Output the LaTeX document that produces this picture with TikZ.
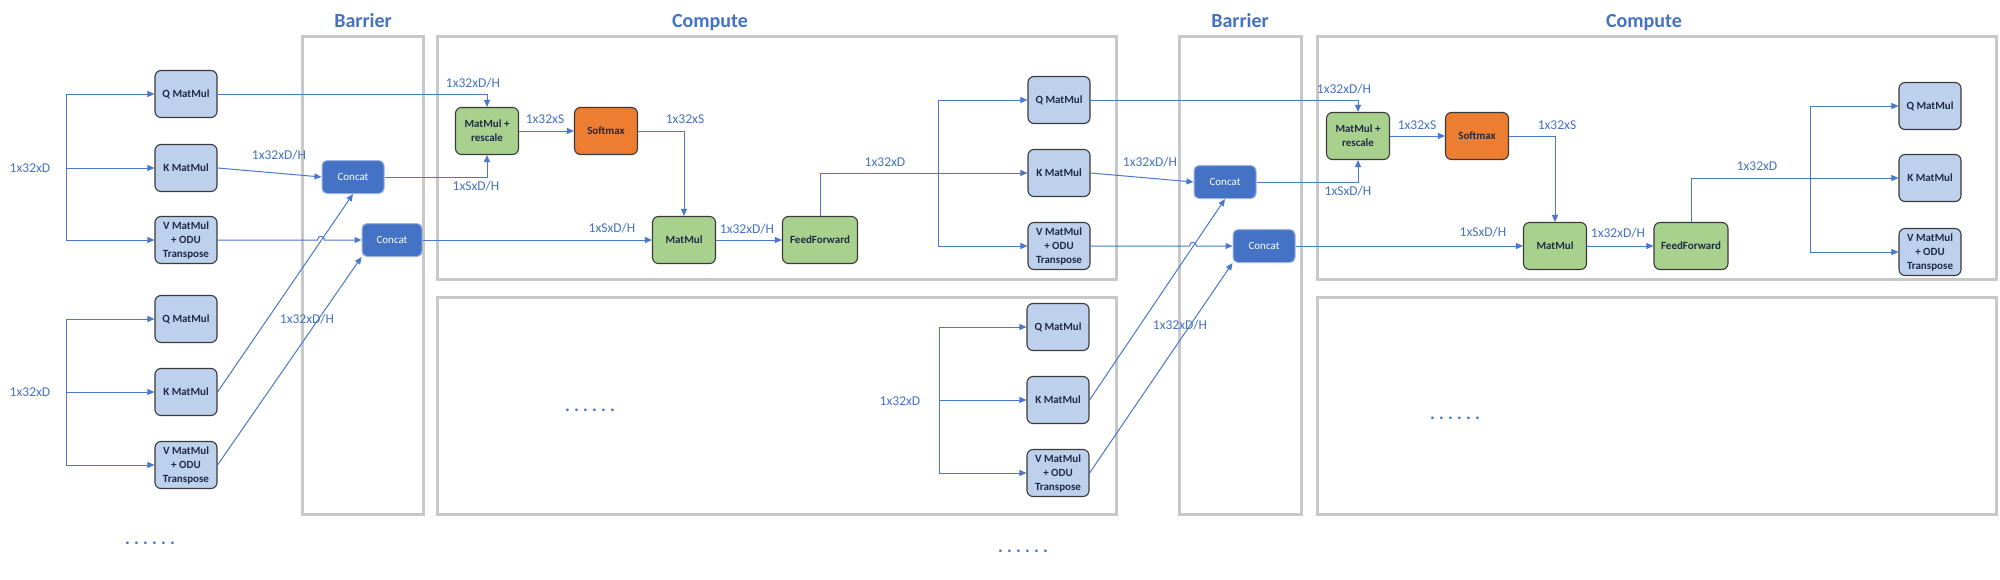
\documentclass[tikz,border=0pt]{standalone}
\usepackage{fontspec}
\setmainfont{Carlito}
\usetikzlibrary{arrows.meta,calc}
\definecolor{cblue}{HTML}{4472C4}
\definecolor{lblue}{HTML}{BDD0EC}
\definecolor{cgreen}{HTML}{A9D18E}
\definecolor{corange}{HTML}{ED7D31}
\definecolor{cgray}{HTML}{C8C8C8}
\definecolor{cline}{HTML}{4A78CB}
\definecolor{cborder}{HTML}{3A3A3A}
\definecolor{ctext}{HTML}{1F2A44}
\definecolor{catborder}{HTML}{9DB5E0}
\newcommand{\mydots}{.\hspace{4.2pt}.\hspace{4.2pt}.\hspace{4.2pt}.\hspace{4.2pt}.\hspace{4.2pt}.}
\begin{document}
\begin{tikzpicture}[x=1pt,y=-1pt,
  box/.style={draw=cborder,line width=1.1pt,rounded corners=6pt,minimum width=62pt,minimum height=47pt,inner sep=1pt,align=center,font=\fontsize{11}{14}\selectfont\bfseries,text=ctext},
  blk/.style={box,fill=lblue},
  grn/.style={box,fill=cgreen},
  org/.style={box,fill=corange},
  cat/.style={draw=catborder,line width=1pt,fill=cblue,rounded corners=5pt,minimum width=62pt,minimum height=33pt,inner sep=1pt,text=white,font=\fontsize{11}{13}\selectfont},
  lbl/.style={text=cblue,font=\fontsize{13.5}{14}\selectfont,inner sep=0pt,text height=8.7pt,text depth=0pt},
  ttl/.style={text=cblue,font=\fontsize{20}{22}\selectfont\bfseries,inner sep=0pt,anchor=base},
  dts/.style={text=cblue,font=\fontsize{18}{18}\selectfont\bfseries,inner sep=0pt,anchor=base},
  frame/.style={draw=cgray,line width=3pt},
  ln/.style={draw=cline,line width=1pt},
  conn/.style={ln,-{Triangle[length=7pt,width=6pt]}},
]
\useasboundingbox[fill=white] (0,0) rectangle (2000,579);

% frames
\draw[frame] (302,36) rectangle (423,514);
\draw[frame] (437,36) rectangle (1116,279);
\draw[frame] (437,297) rectangle (1116,514);
\draw[frame] (1179,36) rectangle (1301,514);
\draw[frame] (1317,36) rectangle (1996,279);
\draw[frame] (1317,297) rectangle (1996,514);

% titles
\node[ttl] (t1) at (363,27.5) {Barrier};
\node[ttl] (t2) at (710,27.5) {Compute};
\node[ttl] (t3) at (1240,27.5) {Barrier};
\node[ttl] (t4) at (1644,27.5) {Compute};

% left groups
\node[blk] (q1) at (186,94) {Q MatMul};
\node[blk] (k1) at (186,168) {K MatMul};
\node[blk] (v1) at (186,240) {V MatMul\\+ ODU\\Transpose};
\node[blk] (q2) at (186,319) {Q MatMul};
\node[blk] (k2) at (186,392) {K MatMul};
\node[blk] (v2) at (186,465) {V MatMul\\+ ODU\\Transpose};

% barrier 1
\node[cat] (c1) at (353,177) {Concat};
\node[cat,minimum width=60pt] (c2) at (392,240) {Concat};

% compute 1 upper
\node[grn,minimum width=63pt] (mr1) at (487,131) {MatMul +\\rescale};
\node[org,minimum width=63pt] (sm1) at (606,131) {Softmax};
\node[grn,minimum width=63pt] (mm1) at (684,240) {MatMul};
\node[grn,minimum width=75pt] (ff1) at (820,240) {FeedForward};
\node[blk] (q3) at (1059,100) {Q MatMul};
\node[blk] (k3) at (1059,173) {K MatMul};
\node[blk] (v3) at (1059,246) {V MatMul\\+ ODU\\Transpose};

% compute 1 lower
\node[blk] (q4) at (1058,327) {Q MatMul};
\node[blk] (k4) at (1058,400) {K MatMul};
\node[blk] (v4) at (1058,473) {V MatMul\\+ ODU\\Transpose};

% barrier 2
\node[cat] (c3) at (1225,182) {Concat};
\node[cat] (c4) at (1264,246) {Concat};

% compute 2 upper
\node[grn,minimum width=63pt] (mr2) at (1358,136) {MatMul +\\rescale};
\node[org,minimum width=63pt] (sm2) at (1477,136) {Softmax};
\node[grn,minimum width=63pt] (mm2) at (1555,246) {MatMul};
\node[grn,minimum width=74pt] (ff2) at (1691,246) {FeedForward};
\node[blk] (q5) at (1930,106) {Q MatMul};
\node[blk] (k5) at (1930,178) {K MatMul};
\node[blk] (v5) at (1930,252) {V MatMul\\+ ODU\\Transpose};

% split coordinates
\coordinate (sp1) at (66,168);
\coordinate (sp2) at (66,392);
\coordinate (sp3) at (938,173);
\coordinate (sp4) at (939,400);
\coordinate (sp5) at (1810,178);
\coordinate (h1) at (321,240);
\coordinate (h2) at (1193,246);

% left split 1
\draw[ln] (sp1 |- q1.west) -- (sp1 |- v1.west);
\draw[conn] (sp1 |- q1.west) -- (q1.west);
\draw[conn] (sp1) -- (k1.west);
\draw[conn] (sp1 |- v1.west) -- (v1.west);
% left split 2
\draw[ln] (sp2 |- q2.west) -- (sp2 |- v2.west);
\draw[conn] (sp2 |- q2.west) -- (q2.west);
\draw[conn] (sp2) -- (k2.west);
\draw[conn] (sp2 |- v2.west) -- (v2.west);

% into barrier 1
\draw[conn] (k1.east) -- (c1.west);
\draw[conn] (k2.east) -- (c1.south);
\draw[conn] (v2.east) -- (c2.south west);
\draw[conn] (v1.east) -- ([xshift=-3.5pt]h1) .. controls +(0,-5) and +(0,-5) .. ([xshift=3.5pt]h1) -- (c2.west);

% compute 1
\draw[conn] (q1.east) -| (mr1.north);
\draw[conn] (c1.east) -| (mr1.south);
\draw[conn] (mr1.east) -- (sm1.west);
\draw[conn] (sm1.east) -| (mm1.north);
\draw[conn] (c2.east) -- (mm1.west);
\draw[conn] (mm1.east) -- (ff1.west);
\draw[conn] (ff1.north) |- (k3.west);
\draw[ln] (sp3 |- q3.west) -- (sp3 |- v3.west);
\draw[conn] (sp3 |- q3.west) -- (q3.west);
\draw[conn] (sp3 |- v3.west) -- (v3.west);

% compute 1 lower split
\draw[ln] (sp4 |- q4.west) -- (sp4 |- v4.west);
\draw[conn] (sp4 |- q4.west) -- (q4.west);
\draw[conn] (sp4) -- (k4.west);
\draw[conn] (sp4 |- v4.west) -- (v4.west);

% into barrier 2
\draw[conn] (k3.east) -- (c3.west);
\draw[conn] (k4.east) -- (c3.south);
\draw[conn] (v4.east) -- (c4.south west);
\draw[conn] (v3.east) -- ([xshift=-3.5pt]h2) .. controls +(0,-5) and +(0,-5) .. ([xshift=3.5pt]h2) -- (c4.west);

% compute 2
\draw[conn] (q3.east) -| (mr2.north);
\draw[conn] (c3.east) -| (mr2.south);
\draw[conn] (mr2.east) -- (sm2.west);
\draw[conn] (sm2.east) -| (mm2.north);
\draw[conn] (c4.east) -- (mm2.west);
\draw[conn] (mm2.east) -- (ff2.west);
\draw[conn] (ff2.north) |- (k5.west);
\draw[ln] (sp5 |- q5.west) -- (sp5 |- v5.west);
\draw[conn] (sp5 |- q5.west) -- (q5.west);
\draw[conn] (sp5 |- v5.west) -- (v5.west);

% labels
\node[lbl] (l1) at (30,168) {1x32xD};
\node[lbl] (l2) at (30,392) {1x32xD};
\node[lbl] (l3) at (279,155) {1x32xD/H};
\node[lbl] (l4) at (307,319) {1x32xD/H};
\node[lbl] (l5) at (473,83) {1x32xD/H};
\node[lbl] (l6) at (476,186) {1xSxD/H};
\node[lbl] (l7) at (545,119) {1x32xS};
\node[lbl] (l8) at (685,119) {1x32xS};
\node[lbl] (l9) at (612,228) {1xSxD/H};
\node[lbl] (l10) at (747,229) {1x32xD/H};
\node[lbl] (l11) at (885,162) {1x32xD};
\node[lbl] (l12) at (900,401) {1x32xD};
\node[lbl] (l13) at (1150,162) {1x32xD/H};
\node[lbl] (l14) at (1180,325) {1x32xD/H};
\node[lbl] (l15) at (1344,89) {1x32xD/H};
\node[lbl] (l16) at (1348,191) {1xSxD/H};
\node[lbl] (l17) at (1417,125) {1x32xS};
\node[lbl] (l18) at (1557,125) {1x32xS};
\node[lbl] (l19) at (1483,232) {1xSxD/H};
\node[lbl] (l20) at (1618,233) {1x32xD/H};
\node[lbl] (l21) at (1757,166) {1x32xD};

% dots
\node[dts] (d1) at (150,544) {\mydots};
\node[dts] (d2) at (590,411) {\mydots};
\node[dts] (d3) at (1023,552) {\mydots};
\node[dts] (d4) at (1455,419) {\mydots};
\end{tikzpicture}
\end{document}
